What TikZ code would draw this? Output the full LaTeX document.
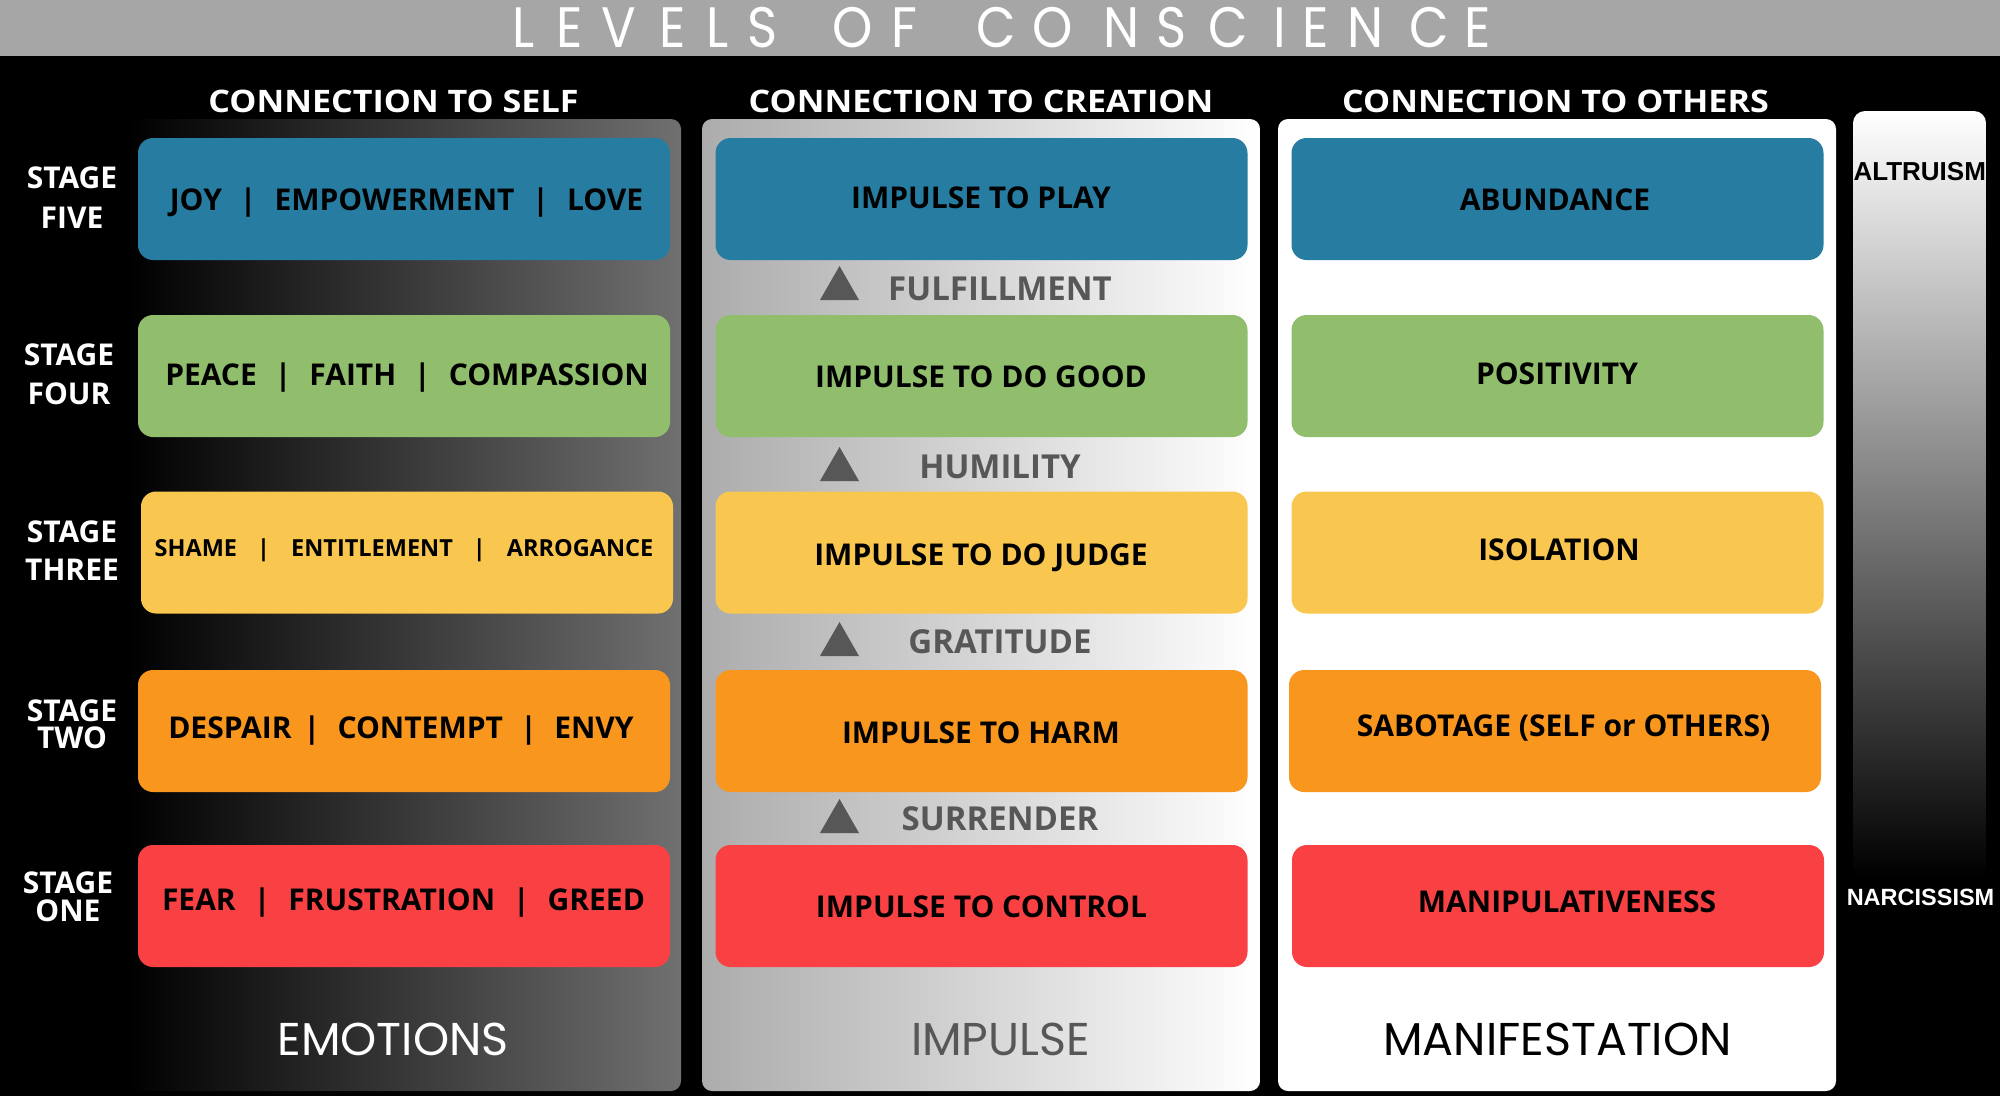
\documentclass[tikz,border=0pt]{standalone}
\usepackage{fontspec}
\usepackage{graphicx}
\setmainfont{Open Sans}
\newfontfamily\popfont{Poppins}
\newfontfamily\arialfont{Liberation Sans}
\definecolor{cblue}{HTML}{277DA1}
\definecolor{cgreen}{HTML}{90BE6D}
\definecolor{cyellow}{HTML}{F9C74F}
\definecolor{corange}{HTML}{F8961E}
\definecolor{cred}{HTML}{F94144}
\definecolor{banner}{HTML}{A6A6A6}
\definecolor{darkg}{HTML}{575757}
\definecolor{leftend}{HTML}{707070}
\definecolor{midstart}{HTML}{ACACAC}
\newcommand\setfs[1]{\fontsize{#1}{#1}\selectfont}
\newcommand\vbar{\hspace{0.6em}|\hspace{0.6em}}
\newcommand\wbar{\hspace{0.85em}|\hspace{0.9em}}
\begin{document}
\begin{tikzpicture}[x=1pt,y=-1pt,
  panel/.style={draw=none, inner sep=0pt, rounded corners=10pt, minimum height=972pt},
  box/.style={draw=none, inner sep=0pt, rounded corners=15pt, minimum width=532pt, minimum height=122pt},
  lbl/.style={anchor=base, inner sep=0pt, font=\bfseries\setfs{30}, text=black},
  stagelbl/.style={anchor=base, inner sep=0pt, font=\bfseries\setfs{30}, text=white},
  head/.style={anchor=base, inner sep=0pt, font=\bfseries\setfs{31}, text=white},
  gaplbl/.style={anchor=base, inner sep=0pt, font=\bfseries\setfs{33}, text=darkg},
  bottomlbl/.style={anchor=base, inner sep=0pt, font=\popfont\setfs{46}},
  titlech/.style={anchor=base, inner sep=0pt, font=\popfont\setfs{57}, text=white},
  tri/.style={fill=darkg}
]
\useasboundingbox (0,0) rectangle (2000,1096);
\fill[black] (0,0) rectangle (2000,1096);
\fill[banner] (0,0) rectangle (2000,56);

% title
\foreach \ch/\xx [count=\i] in {L/523.8,E/569.5,V/619.3,E/672.6,L/718,S/762.8,O/853,F/904.4,C/996.2,O/1053,N/1121.6,S/1172,C/1228.7,I/1279.7,E/1315.5,N/1365.3,C/1429.3,E/1478}
  \node[titlech] (t\i) at (\xx,47) {\scalebox{0.9}[1]{\ch}};

% panels
\node[panel, minimum width=553pt, left color=black, right color=leftend] (pself) at (404.5,605) {};
\node[panel, minimum width=558pt, left color=midstart, right color=white] (pcre) at (981,605) {};
\node[panel, minimum width=558pt, fill=white] (poth) at (1557,605) {};
\node[panel, minimum width=133pt, minimum height=767pt, rounded corners=12pt, top color=white, bottom color=black] (pbar) at (1919.5,494.5) {};

% headers
\node[head] (h1) at (393.5,112) {\scalebox{1.1}[1]{CONNECTION TO SELF}};
\node[head] (h2) at (981,112) {\scalebox{1.1}[1]{CONNECTION TO CREATION}};
\node[head] (h3) at (1555.5,112) {\scalebox{1.1}[1]{CONNECTION TO OTHERS}};

% stage labels
\node[stagelbl] (st5a) at (72,188.2) {STAGE};
\node[stagelbl] (st5b) at (72,228.2) {FIVE};
\node[stagelbl] (st4a) at (69,365.3) {STAGE};
\node[stagelbl] (st4b) at (69,404.8) {FOUR};
\node[stagelbl] (st3a) at (72,542.4) {STAGE};
\node[stagelbl] (st3b) at (72,580.7) {THREE};
\node[stagelbl] (st2a) at (72,721.7) {STAGE};
\node[stagelbl] (st2b) at (72,748.2) {TWO};
\node[stagelbl] (st1a) at (68,893.7) {STAGE};
\node[stagelbl] (st1b) at (68,921.7) {ONE};

% left boxes
\node[box, fill=cblue] (l5) at (404,199) {};
\node[box, fill=cgreen] (l4) at (404,376) {};
\node[box, fill=cyellow] (l3) at (407,552.5) {};
\node[box, fill=corange] (l2) at (404,731) {};
\node[box, fill=cred] (l1) at (404,906) {};
% middle boxes
\node[box, fill=cblue] (m5) at (981.5,199) {};
\node[box, fill=cgreen] (m4) at (981.5,376) {};
\node[box, fill=cyellow] (m3) at (981.5,552.5) {};
\node[box, fill=corange] (m2) at (981.5,731) {};
\node[box, fill=cred] (m1) at (981.5,906) {};
% right boxes
\node[box, fill=cblue] (r5) at (1557.5,199) {};
\node[box, fill=cgreen] (r4) at (1557.5,376) {};
\node[box, fill=cyellow] (r3) at (1557.5,552.5) {};
\node[box, fill=corange] (r2) at (1555,731) {};
\node[box, fill=cred] (r1) at (1558,906) {};

% left texts
\node[lbl] (lt5) at (406.5,210.2) {JOY\vbar EMPOWERMENT\vbar LOVE};
\node[lbl] (lt4) at (407,385.7) {PEACE\vbar FAITH\vbar COMPASSION};
\node[lbl, font=\bfseries\setfs{23.5}] (lt3) at (404,556.4) {SHAME\wbar ENTITLEMENT\wbar ARROGANCE};
\node[lbl] (lt2) at (401,738.7) {DESPAIR\hspace{0.4em}|\hspace{0.58em}CONTEMPT\hspace{0.58em}|\hspace{0.58em}ENVY};
\node[lbl] (lt1) at (403.5,910.7) {FEAR\vbar FRUSTRATION\vbar GREED};

% middle texts
\node[lbl] (mt5) at (981,208.7) {IMPULSE TO PLAY};
\node[lbl] (mt4) at (981,387.4) {IMPULSE TO DO GOOD};
\node[lbl] (mt3) at (981,565.7) {IMPULSE TO DO JUDGE};
\node[lbl] (mt2) at (981,743.7) {IMPULSE TO HARM};
\node[lbl] (mt1) at (981.5,917.4) {IMPULSE TO CONTROL};

% gap labels with triangles
\node[gaplbl] (g4) at (1000,300.4) {FULFILLMENT};
\node[gaplbl] (g3) at (1000,478.9) {HUMILITY};
\node[gaplbl] (g2) at (1000,653) {GRATITUDE};
\node[gaplbl] (g1) at (1000,830.9) {SURRENDER};
\foreach \yb in {300,481,656,833}
  \fill[tri] (820,\yb) -- (859,\yb) -- (839.5,\yb-34) -- cycle;

% right texts
\node[lbl] (rt5) at (1555,210.4) {ABUNDANCE};
\node[lbl] (rt4) at (1557,384.7) {POSITIVITY};
\node[lbl] (rt3) at (1559,560.7) {ISOLATION};
\node[lbl] (rt2) at (1563.5,736.2) {SABOTAGE (SELF or OTHERS)};
\node[lbl] (rt1) at (1567,912) {MANIPULATIVENESS};

% bar labels
\node[anchor=base, inner sep=0pt, font=\arialfont\bfseries\setfs{26}, text=black] (alt) at (1919.7,180.3) {ALTRUISM};
\node[anchor=base, inner sep=0pt, font=\arialfont\bfseries\setfs{23.5}, text=white] (nar) at (1920.5,905.4) {NARCISSISM};

% bottom labels
\node[bottomlbl, text=white] (b1) at (393,1055) {EMOTIONS};
\node[bottomlbl, text=darkg] (b2) at (1000.6,1055) {IMPULSE};
\node[bottomlbl, text=black] (b3) at (1557.4,1055) {MANIFESTATION};
\end{tikzpicture}
\end{document}
